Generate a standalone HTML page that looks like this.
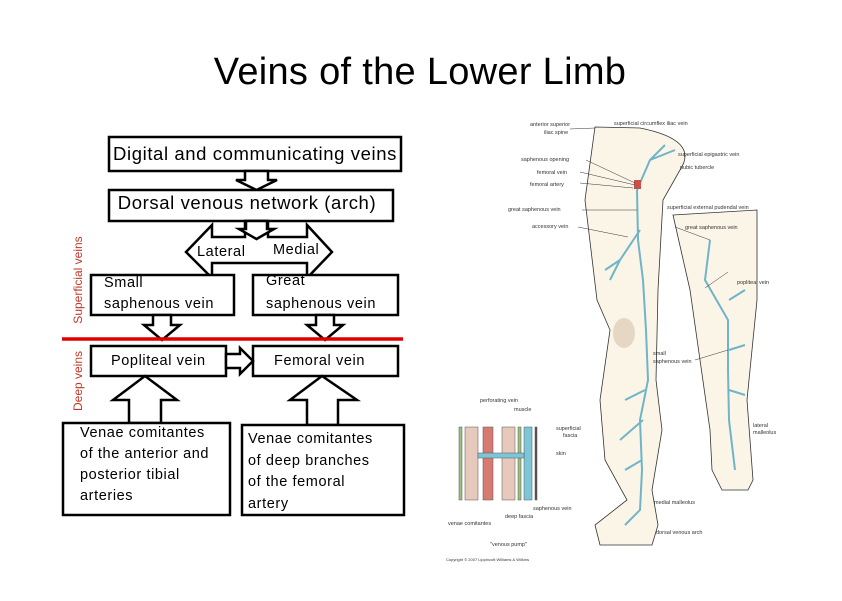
<!DOCTYPE html>
<html><head><meta charset="utf-8"><style>
html,body{margin:0;padding:0;background:#fff;}
body{width:842px;height:596px;overflow:hidden;font-family:"Liberation Sans",sans-serif;}
</style></head><body>
<svg width="842" height="596" viewBox="0 0 842 596" xmlns="http://www.w3.org/2000/svg" font-family="Liberation Sans, sans-serif">
<rect width="842" height="596" fill="#fff"/>
<text x="420" y="84" text-anchor="middle" font-size="38" letter-spacing="0.3">Veins of the Lower Limb</text>

<g fill="#fff" stroke="#000" stroke-width="2.5">
<rect x="109" y="137" width="292" height="34"/>
<polygon points="245,171 268,171 268,180 277,180 256.5,190 236,180 245,180"/>
<rect x="109" y="190" width="284" height="31"/>
<polygon points="212,237 245,237 245,221 268,221 268,237 307,237 307,225 332,252 307,278 307,263 212,263 212,278 186,252 212,225"/>
<polygon points="246,221 267,221 267,229 274,229 256.5,239 239,229 246,229"/>
<rect x="91" y="275" width="143" height="40"/>
<rect x="253" y="275" width="145" height="40"/>
<polygon points="153,315 171,315 171,325 180,325 162,340 144,325 153,325"/>
<polygon points="316,315 334,315 334,325 343,325 325,340 307,325 316,325"/>
<rect x="91" y="346" width="135" height="30"/>
<rect x="253" y="346" width="145" height="30"/>
<polygon points="226,354 240,354 240,348 253,361 240,374 240,368 226,368"/>
<polygon points="129,423 129,400 113,400 145,376 177,400 161,400 161,423"/>
<polygon points="307,425 307,400 290,400 322,376 357,400 338,400 338,425"/>
<rect x="63" y="423" width="167" height="92"/>
<rect x="242" y="425" width="162" height="90"/>
</g>
<line x1="62" y1="339" x2="403" y2="339" stroke="#e00000" stroke-width="3.5"/>

<g font-size="18.5" fill="#000" letter-spacing="0.6">
<text x="255" y="160" text-anchor="middle">Digital and communicating veins</text>
<text x="247" y="209" text-anchor="middle">Dorsal venous network (arch)</text>
</g>
<g font-size="14.5" fill="#000" letter-spacing="0.6">
<text x="197" y="256">Lateral</text>
<text x="273" y="254">Medial</text>
<text x="104" y="287">Small</text>
<text x="104" y="308">saphenous vein</text>
<text x="266" y="285">Great</text>
<text x="266" y="308">saphenous vein</text>
<text x="111" y="365">Popliteal vein</text>
<text x="274" y="365">Femoral vein</text>
<text x="80" y="437">Venae comitantes</text>
<text x="80" y="458">of the anterior and</text>
<text x="80" y="479">posterior tibial</text>
<text x="80" y="500">arteries</text>
<text x="248" y="443">Venae comitantes</text>
<text x="248" y="465">of deep branches</text>
<text x="248" y="486">of the femoral</text>
<text x="248" y="508">artery</text>
</g>
<g font-size="12" fill="#c0392b">
<text transform="translate(82,280) rotate(-90)" text-anchor="middle">Superficial veins</text>
<text transform="translate(82,381) rotate(-90)" text-anchor="middle">Deep veins</text>
</g>

<g stroke="#333" stroke-width="0.8">
<path d="M595,127 L640,128 Q700,140 680,170 L663,200 L658,290 L656,380 L662,430 L652,490 L658,525 L652,545 L600,545 L595,525 L627,500 L605,460 L600,400 L610,330 L597,300 L585,200 Z" fill="#fbf5e8"/>
<path d="M673,215 L757,210 L757,300 L747,400 L753,480 L748,490 L722,490 L712,470 L710,430 L700,360 L690,290 Z" fill="#fbf5e8"/>
<ellipse cx="624" cy="333" rx="11" ry="15" fill="#e6d7c5" stroke="none"/>
</g>
<g stroke="#6fb4c8" stroke-width="2" fill="none">
<path d="M637,190 L638,240 L643,280 L646,330 L648,380 L640,420 L642,470 L640,510 L625,525"/>
<path d="M640,230 L620,260 L610,280 M620,260 L605,270"/>
<path d="M637,190 L650,160 L665,145 M650,160 L675,150"/>
<path d="M645,390 L625,400 M643,420 L620,440 M642,460 L625,470"/>
<path d="M710,240 L705,280 L728,320 L728,370 L729,420 L735,470"/>
<path d="M729,300 L745,290 M729,350 L745,345 M729,390 L745,395"/>
</g>
<rect x="634" y="180" width="7" height="9" fill="#c8504a"/>
<g stroke="#333" stroke-width="0.5">
<line x1="570" y1="129" x2="595" y2="128"/>
<line x1="586" y1="160" x2="635" y2="183"/>
<line x1="580" y1="172" x2="635" y2="185"/>
<line x1="580" y1="183" x2="633" y2="188"/>
<line x1="582" y1="210" x2="637" y2="210"/>
<line x1="578" y1="227" x2="628" y2="237"/>
<line x1="675" y1="227" x2="710" y2="240"/>
<line x1="705" y1="288" x2="728" y2="272"/>
<line x1="695" y1="360" x2="728" y2="350"/>
</g>
<g font-size="5.5" fill="#333">
<text x="530" y="126">anterior superior</text><text x="544" y="134">iliac spine</text>
<text x="614" y="125">superficial circumflex iliac vein</text>
<text x="678" y="156">superficial epigastric vein</text>
<text x="680" y="169">pubic tubercle</text>
<text x="521" y="161">saphenous opening</text>
<text x="537" y="174">femoral vein</text>
<text x="530" y="186">femoral artery</text>
<text x="667" y="209">superficial external pudendal vein</text>
<text x="508" y="211">great saphenous vein</text>
<text x="532" y="228">accessory vein</text>
<text x="685" y="229">great saphenous vein</text>
<text x="737" y="284">popliteal vein</text>
<text x="653" y="355">small</text><text x="653" y="363">saphenous vein</text>
<text x="753" y="427">lateral</text><text x="753" y="434">malleolus</text>
<text x="654" y="504">medial malleolus</text>
<text x="656" y="534">dorsal venous arch</text>
<text x="480" y="402">perforating vein</text>
<text x="514" y="411">muscle</text>
<text x="556" y="430">superficial</text><text x="563" y="437">fascia</text>
<text x="556" y="455">skin</text>
<text x="448" y="525">venae comitantes</text>
<text x="505" y="518">deep fascia</text>
<text x="533" y="510">saphenous vein</text>
<text x="490" y="546">"venous pump"</text>
<text x="446" y="561" font-size="4">Copyright © 2007 Lippincott Williams &amp; Wilkins</text>
</g>
<g stroke="#555" stroke-width="0.5">
<rect x="459" y="427" width="3" height="73" fill="#9cbf7f"/>
<rect x="465" y="427" width="13" height="73" fill="#e7c9bc"/>
<rect x="483" y="427" width="10" height="73" fill="#d77a72"/>
<rect x="502" y="427" width="13" height="73" fill="#e7c9bc"/>
<rect x="518" y="427" width="3" height="73" fill="#9cbf7f"/>
<rect x="524" y="427" width="8" height="73" fill="#7cc6d8"/>
<rect x="535" y="427" width="2" height="73" fill="#555"/>
<rect x="478" y="453" width="46" height="5" fill="#7cc6d8"/>
</g>
</svg>
</body></html>
